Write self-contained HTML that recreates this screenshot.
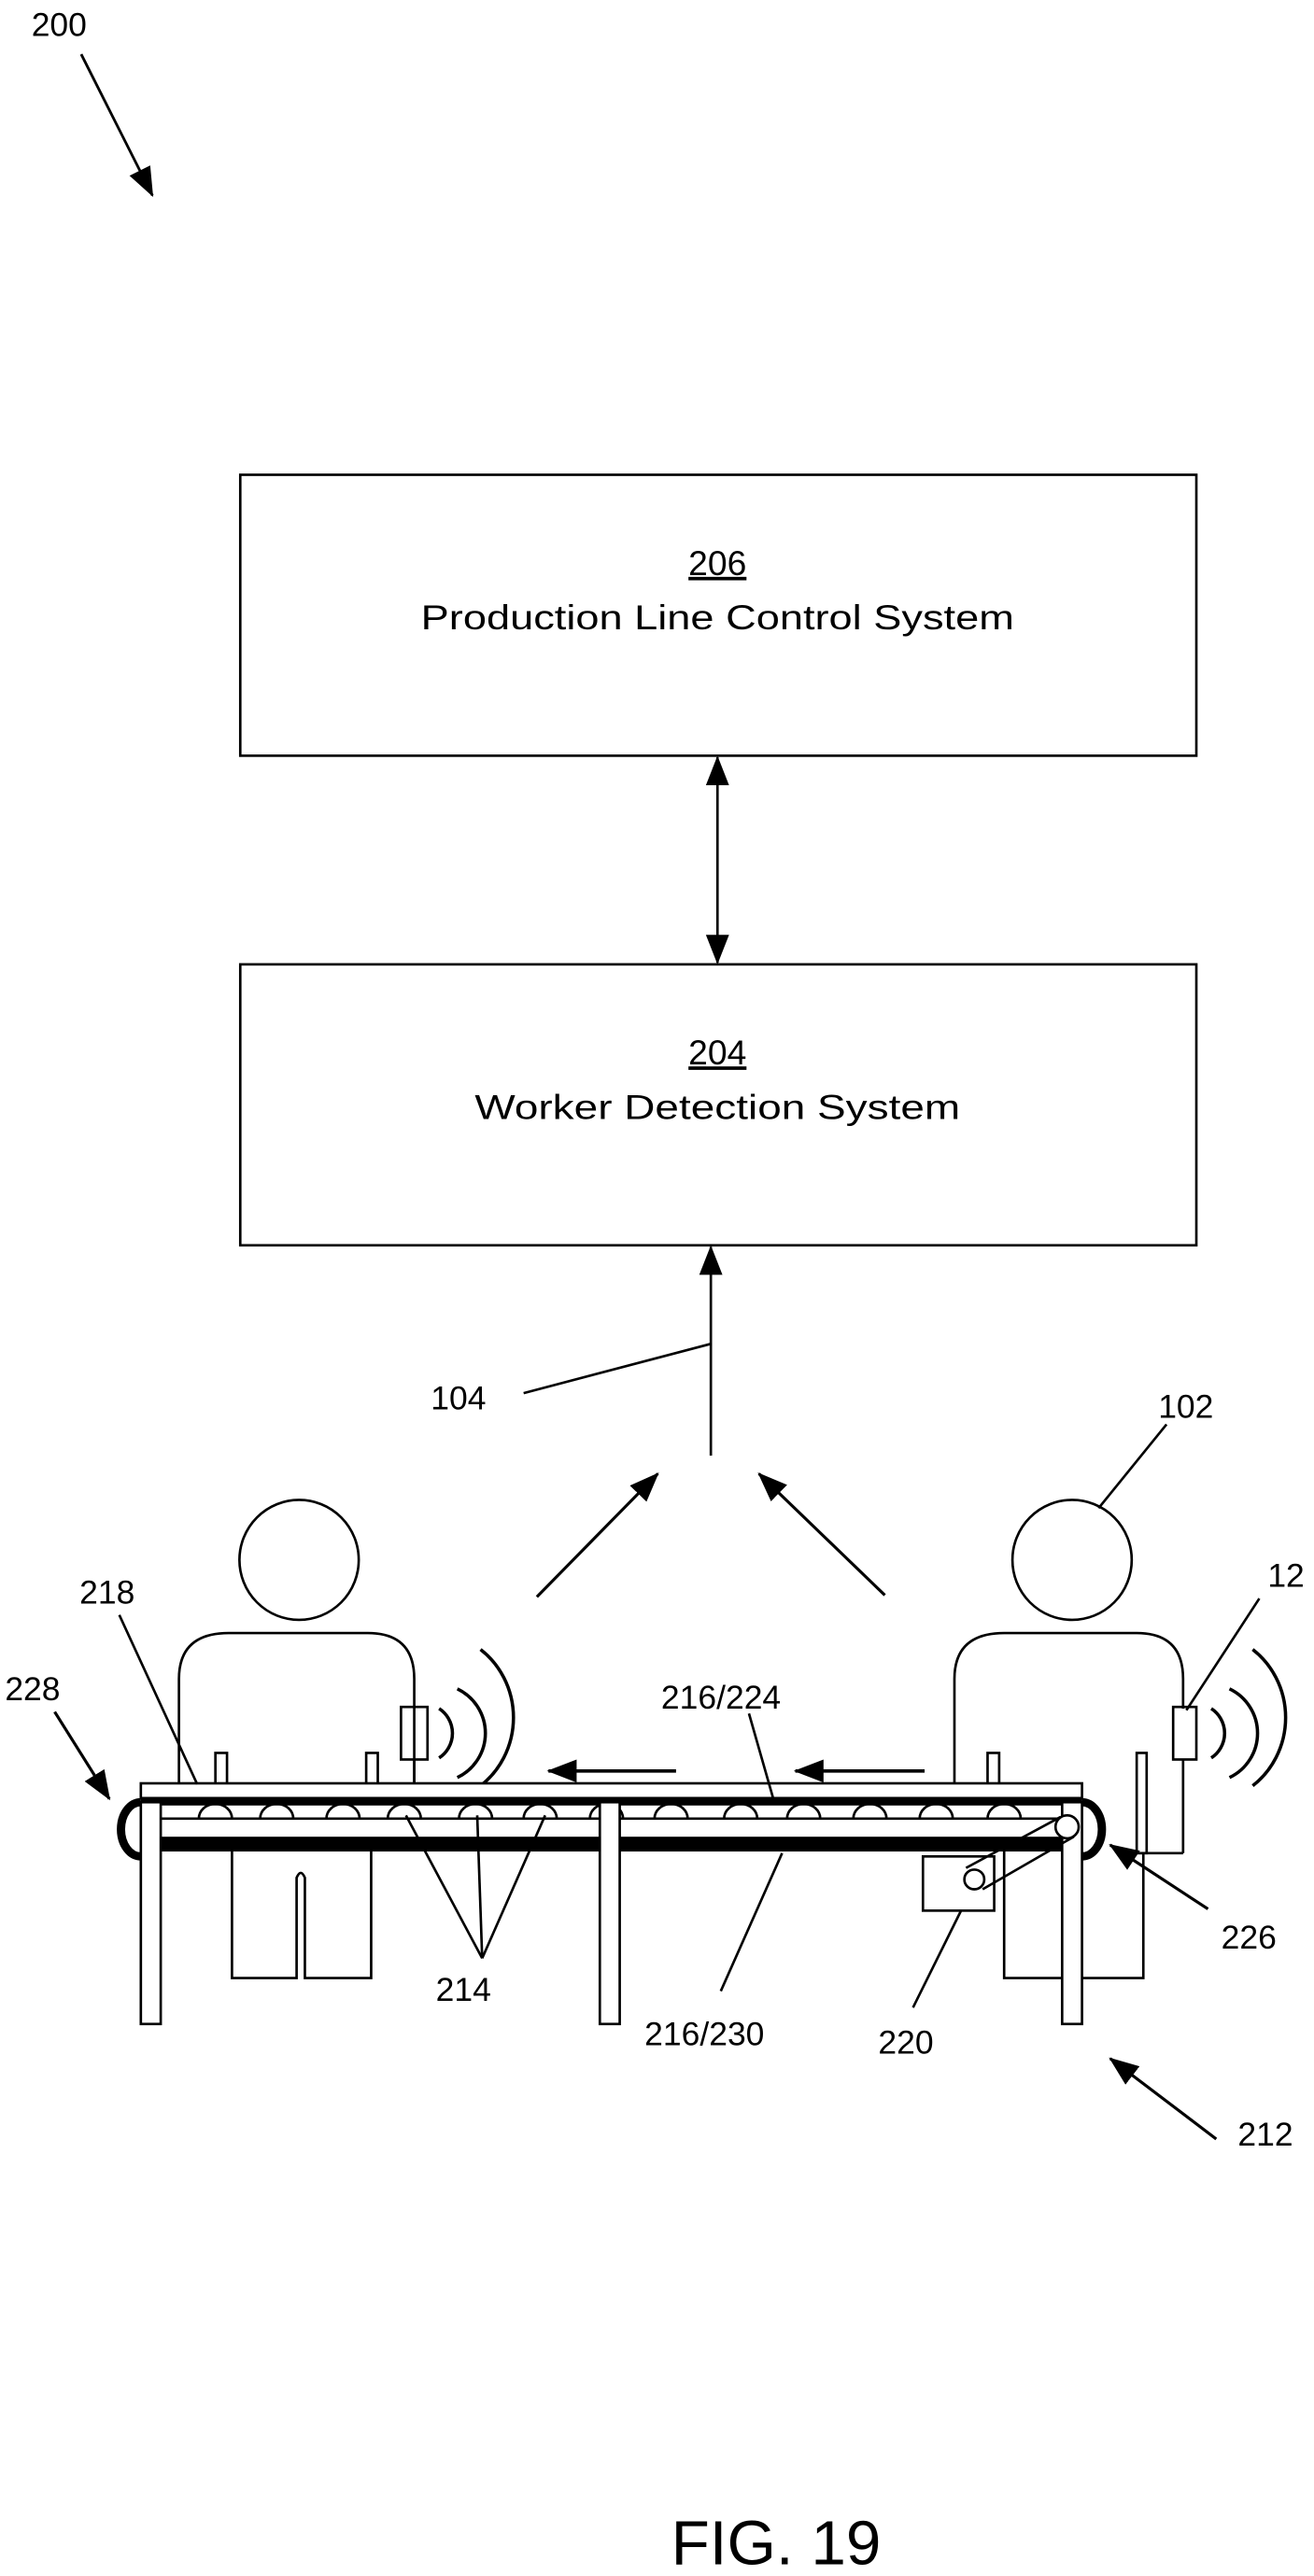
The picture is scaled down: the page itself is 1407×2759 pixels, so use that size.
<!DOCTYPE html>
<html><head><meta charset="utf-8"><style>
html,body{margin:0;padding:0;background:#fff;}
svg{display:block;}
text{font-family:"Liberation Sans",sans-serif;fill:#000;}
</style></head><body>
<svg width="1407" height="2759" viewBox="0 0 793 1568" preserveAspectRatio="none" xmlns="http://www.w3.org/2000/svg">
<defs>
<marker id="ah" markerWidth="10" markerHeight="10" refX="9" refY="5" orient="auto" markerUnits="userSpaceOnUse" viewBox="0 0 10 10">
<path d="M0,0 L10,5 L0,10 z" fill="#000"/></marker>
<marker id="ahb" markerWidth="18" markerHeight="18" refX="17" refY="9" orient="auto-start-reverse" markerUnits="userSpaceOnUse" viewBox="0 0 18 18">
<path d="M0,2 L18,9 L0,16 z" fill="#000"/></marker>
</defs>
<g stroke="#000" fill="none" stroke-width="1.5">
<!-- 200 -->
<line x1="49" y1="33" x2="92" y2="119" marker-end="url(#ahb)" stroke-width="1.6"/>
<!-- boxes -->
<rect x="145" y="289" width="577" height="171"/>
<rect x="145" y="587" width="577" height="171"/>
<line x1="433" y1="461" x2="433" y2="586" marker-start="url(#ahb)" marker-end="url(#ahb)"/>
<line x1="429" y1="886" x2="429" y2="759" marker-end="url(#ahb)"/>
<line x1="316" y1="848" x2="429" y2="818"/>
<line x1="704" y1="867" x2="663" y2="918"/>
<line x1="324" y1="972" x2="397" y2="897" marker-end="url(#ahb)" stroke-width="1.8"/>
<line x1="534" y1="971" x2="458" y2="897" marker-end="url(#ahb)" stroke-width="1.8"/>
<!-- left person -->
<ellipse cx="180.5" cy="949.5" rx="36" ry="36.5"/>
<path d="M108,1086 L108,1022 Q108,994 138,994 L222,994 Q250,994 250,1022 L250,1086"/>
<path d="M140,1127 L140,1204 L179,1204 L179,1143 Q181.5,1137 184,1143 L184,1204 L224,1204 L224,1127"/>
<rect x="242" y="1039" width="16" height="32"/>
<line x1="250" y1="1071" x2="250" y2="1086"/>
<path d="M265,1040 A18,18 0 0 1 265,1070" stroke-width="2"/>
<path d="M276,1028 A30,30 0 0 1 276,1082" stroke-width="2"/>
<path d="M290,1004 A50,52 0 0 1 290,1087" stroke-width="2"/>
<!-- right person -->
<ellipse cx="647" cy="949.5" rx="36" ry="36.5"/>
<path d="M576,1086 L576,1022 Q576,994 606,994 L686,994 Q714,994 714,1022 L714,1040"/>
<line x1="714" y1="1071" x2="714" y2="1128"/>
<path d="M606,1127 L606,1204 L690,1204 L690,1127"/>
<rect x="686" y="1067" width="6" height="61" fill="#fff"/>
<line x1="686" y1="1128" x2="714" y2="1128"/>
<rect x="708" y="1039" width="14" height="32"/>
<path d="M731,1040 A18,18 0 0 1 731,1070" stroke-width="2"/>
<path d="M742,1028 A30,30 0 0 1 742,1082" stroke-width="2"/>
<path d="M756,1004 A50,52 0 0 1 756,1087" stroke-width="2"/>
<!-- posts -->
<rect x="130" y="1067" width="7" height="19" fill="#fff"/>
<rect x="221" y="1067" width="7" height="19" fill="#fff"/>
<rect x="596" y="1067" width="7" height="19" fill="#fff"/>
<!-- conveyor -->
<rect x="85" y="1085.5" width="568" height="9" fill="#fff"/>
<rect x="85" y="1094" width="568" height="5" fill="#000" stroke="none"/>
<line x1="97" y1="1107" x2="642" y2="1107"/>
<rect x="97" y="1118" width="545" height="9" fill="#000" stroke="none"/>
<g stroke-width="1.5">
<path d="M120,1107 A10,9 0 0 1 140,1107"/>
<path d="M157,1107 A10,9 0 0 1 177,1107"/>
<path d="M197,1107 A10,9 0 0 1 217,1107"/>
<path d="M234,1107 A10,9 0 0 1 254,1107"/>
<path d="M277,1107 A10,9 0 0 1 297,1107"/>
<path d="M316,1107 A10,9 0 0 1 336,1107"/>
<path d="M356,1107 A10,9 0 0 1 376,1107"/>
<path d="M395,1107 A10,9 0 0 1 415,1107"/>
<path d="M437,1107 A10,9 0 0 1 457,1107"/>
<path d="M475,1107 A10,9 0 0 1 495,1107"/>
<path d="M515,1107 A10,9 0 0 1 535,1107"/>
<path d="M555,1107 A10,9 0 0 1 575,1107"/>
<path d="M596,1107 A10,9 0 0 1 616,1107"/>
</g>
<path d="M85,1097 A12,16.5 0 0 0 85,1130" stroke-width="5"/>
<path d="M653,1097 A12,16.5 0 0 1 653,1130" stroke-width="5"/>
<rect x="85" y="1097" width="12" height="135" fill="#fff"/>
<rect x="362" y="1097" width="12" height="135" fill="#fff"/>
<rect x="641" y="1097" width="12" height="135" fill="#fff"/>
<rect x="557" y="1130" width="43" height="33" fill="#fff"/>
<circle cx="588" cy="1144" r="6" fill="#fff"/>
<circle cx="644" cy="1112" r="7" fill="#fff"/>
<line x1="583" y1="1137" x2="640" y2="1106"/>
<line x1="593" y1="1150" x2="648" y2="1118"/>
<!-- flow arrows -->
<line x1="408" y1="1078" x2="331" y2="1078" marker-end="url(#ahb)" stroke-width="2"/>
<line x1="558" y1="1078" x2="480" y2="1078" marker-end="url(#ahb)" stroke-width="2"/>
<!-- leaders -->
<line x1="72" y1="983" x2="119" y2="1086"/>
<line x1="33" y1="1042" x2="66" y2="1095" marker-end="url(#ahb)" stroke-width="1.8"/>
<line x1="760" y1="973" x2="716" y2="1041"/>
<line x1="452" y1="1043" x2="467" y2="1096"/>
<line x1="291" y1="1192" x2="245" y2="1105"/>
<line x1="291" y1="1192" x2="288" y2="1105"/>
<line x1="291" y1="1192" x2="329" y2="1105"/>
<line x1="435" y1="1212" x2="472" y2="1128"/>
<line x1="551" y1="1222" x2="580" y2="1163"/>
<line x1="729" y1="1162" x2="670" y2="1123" marker-end="url(#ahb)" stroke-width="1.8"/>
<line x1="734" y1="1302" x2="670" y2="1253" marker-end="url(#ahb)" stroke-width="1.8"/>
</g>
<g font-size="20">
<text x="19" y="22">200</text>
<text x="433" y="350" text-anchor="middle" text-decoration="underline" font-size="21">206</text>
<text x="433" y="383" text-anchor="middle" font-size="21" textLength="358" lengthAdjust="spacingAndGlyphs">Production Line Control System</text>
<text x="433" y="648" text-anchor="middle" text-decoration="underline" font-size="21">204</text>
<text x="433" y="681" text-anchor="middle" font-size="21" textLength="293" lengthAdjust="spacingAndGlyphs">Worker Detection System</text>
<text x="260" y="858">104</text>
<text x="699" y="863">102</text>
<text x="48" y="976">218</text>
<text x="3" y="1035">228</text>
<text x="765" y="966">12</text>
<text x="399" y="1040">216/224</text>
<text x="263" y="1218">214</text>
<text x="389" y="1245">216/230</text>
<text x="530" y="1250">220</text>
<text x="737" y="1186">226</text>
<text x="747" y="1306">212</text>
<text x="405" y="1561" font-size="38">FIG. 19</text>
</g>
</svg>
</body></html>
